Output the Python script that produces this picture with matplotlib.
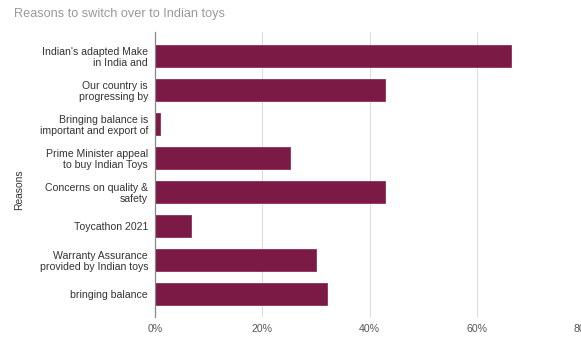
import matplotlib
matplotlib.use("Agg")
import matplotlib.pyplot as plt
from matplotlib.ticker import PercentFormatter

plt.rcParams['font.family'] = ['Liberation Sans', 'DejaVu Sans']

# data (top to bottom)
reasons = ["Indian's adapted Make\nin India and",
           "Our country is\nprogressing by",
           "Bringing balance is\nimportant and export of",
           "Prime Minister appeal\nto buy Indian Toys",
           "Concerns on quality &\nsafety",
           "Toycathon 2021",
           "Warranty Assurance\nprovided by Indian toys",
           "bringing balance"]
shares = [66.4, 42.8, 1.0, 25.2, 42.8, 6.7, 30.1, 32.1]
xticks = [0, 20, 40, 60, 80]

fig = plt.figure(figsize=(5.81, 3.38), dpi=100)
W, H = 581, 338
# axes spans past the right edge, like the cropped original
ax = fig.add_axes([155 / W, 1 - 317 / H, (584 - 155) / W, (317 - 32) / H])

pos = list(range(len(reasons)))
ax.barh(pos, shares, height=0.63, color='#7a1a45', edgecolor='#8e2e58',
        linewidth=0.6, zorder=3)
ax.set_ylim(len(reasons) - 0.32, -0.7)
ax.set_xlim(0, 80)
ax.set_yticks(pos)
ax.set_yticklabels(reasons, fontsize=7.6, color='#333333')
ax.set_xticks(xticks)
ax.xaxis.set_major_formatter(PercentFormatter(decimals=0))
ax.tick_params(axis='x', labelsize=7.6, colors='#555555', length=0, pad=5)
ax.tick_params(axis='y', length=0, pad=5)
ax.grid(axis='x', color='#dddddd', linewidth=0.8, zorder=0)
for s in ['top', 'right', 'bottom']:
    ax.spines[s].set_visible(False)
ax.spines['left'].set_color('#888888')
ax.spines['left'].set_linewidth(0.9)
ax.spines['left'].set_zorder(4)

fig.text(14 / W, 1 - 14 / H, 'Reasons to switch over to Indian toys',
         fontsize=9.2, color='#999999', va='center', ha='left')
fig.text(19 / W, 1 - 190 / H, 'Reasons', rotation=90, fontsize=7.4,
         color='#333333', va='center', ha='center')

fig.savefig('out.png', dpi=100)
